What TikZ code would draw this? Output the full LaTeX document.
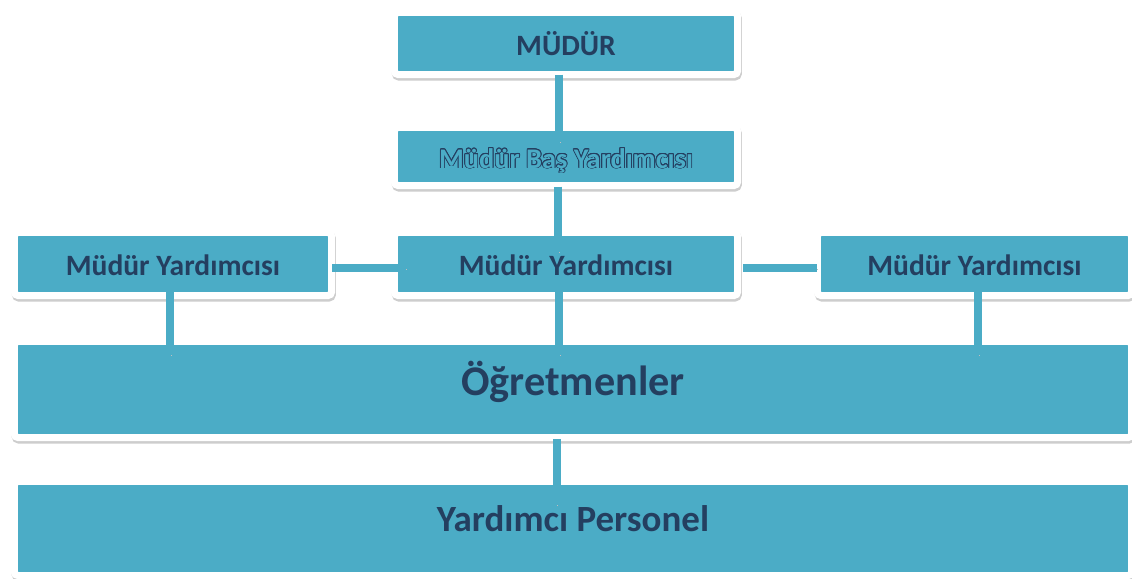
\documentclass[tikz,border=0pt]{standalone}
\usepackage{fontspec}
\setmainfont{Carlito}
\usepackage{xcolor}
\usepackage{contour}
\usepackage{tikz}
\usetikzlibrary{positioning,calc}
\definecolor{orgfill}{HTML}{4BACC6}
\definecolor{orgtext}{HTML}{243F60}
\definecolor{orgshade}{HTML}{CDCDCD}
\contourlength{0.6pt}

\begin{document}
\begin{tikzpicture}[
    x=0.025cm, y=-0.025cm,
    orgbox/.style={draw=white, line width=0.175cm, fill=orgfill, rounded corners=0.0875cm, inner sep=0pt, outer sep=0pt, align=center, text=orgtext,
        font=\bfseries\fontsize{21}{25}\selectfont, text height=0.875cm, text depth=0.3cm,
        preaction={draw=orgshade, fill=orgshade, transform canvas={xshift=0.6pt, yshift=-1.8pt}}},
    bigbox/.style={orgbox, minimum width=27.925cm, font=\bfseries\fontsize{30}{36}\selectfont, text depth=0.5cm},
    link/.style={draw=orgfill, line width=0.2cm, preaction={draw=black!25, transform canvas={xshift=0.6pt, yshift=-0.6pt}}}
]
    \useasboundingbox (0,0) rectangle (1132,579);

    % Top of the chart
    \node[orgbox, minimum width=8.575cm, minimum height=1.55cm] (mudur) at (566,43.5) {MÜDÜR};
    \node[orgbox, minimum width=8.575cm, minimum height=1.45cm, text=orgfill, font=\bfseries\fontsize{20.2}{24}\selectfont] (basyrd) at (566,156.5) {\contour{orgtext}{Müdür Baş Yardımcısı}};

    % Assistants row
    \node[orgbox, minimum width=8.575cm, minimum height=1.575cm, text height=0.85cm] (yrdmid) at (566,264) {Müdür Yardımcısı};
    \node[orgbox, minimum width=7.925cm, minimum height=1.575cm, text height=0.85cm] (yrdleft) at (173,264) {Müdür Yardımcısı};
    \node[orgbox, minimum width=7.85cm, minimum height=1.575cm, text height=0.85cm] (yrdright) at (974.5,264) {Müdür Yardımcısı};

    % Staff bars
    \node[bigbox, minimum height=2.4cm, text height=0.775cm] (ogretmen) at (573,389.5) {Öğretmenler};
    \node[bigbox, minimum height=2.35cm, text height=0.625cm, font=\bfseries\fontsize{26.3}{32}\selectfont] (personel) at (573,528.5) {Yardımcı Personel};

    % Connections
    \draw[link] ($(mudur.south)+(-7,0)$) -- ($(basyrd.north)+(-7,14.5)$);
    \draw[link] ($(basyrd.south)+(-8,1)$) -- ($(yrdmid.north)+(-8,19.5)$);
    \draw[link] ($(yrdmid.south)+(-7,-8)$) -- ($(ogretmen.north -| yrdmid.south)+(-7,13.5)$);
    \draw[link] ($(yrdleft.south)+(-3,-8)$) -- ($(ogretmen.north -| yrdleft.south)+(-3,13.5)$);
    \draw[link] ($(yrdright.south)+(3.5,-8)$) -- ($(ogretmen.north -| yrdright.south)+(3.5,13.5)$);
    \draw[link] ($(yrdleft.east)+(0.5,4)$) -- ($(yrdmid.west)+(11.5,4)$);
    \draw[link] ($(yrdmid.east)+(5.5,4)$) -- ($(yrdright.west)+(0,4)$);
    \draw[link] ($(ogretmen.south)+(-16.5,1.5)$) -- ($(personel.north)+(-16.5,23.5)$);
\end{tikzpicture}
\end{document}
